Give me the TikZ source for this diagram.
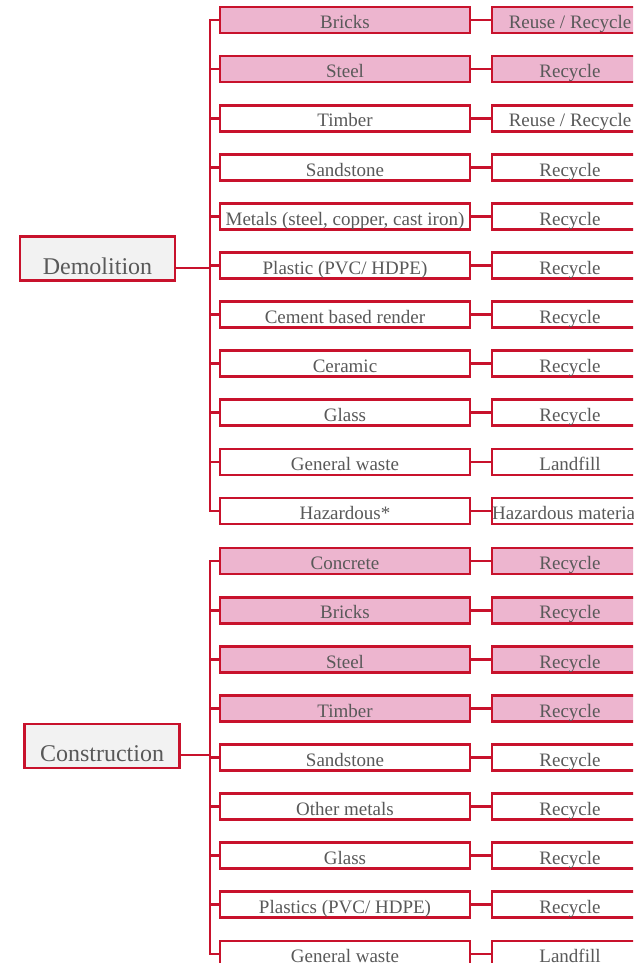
\documentclass[tikz,border=0pt]{standalone}
\usepackage{fontspec}
\setmainfont{Liberation Serif}
\definecolor{boxred}{RGB}{200,18,44}
\definecolor{boxpink}{RGB}{237,181,207}
\definecolor{boxgrey}{RGB}{242,242,242}
\definecolor{txtgrey}{RGB}{89,89,89}
\tikzset{
  item/.style={draw=boxred, line width=2.7pt, fill=white, text=txtgrey,
    minimum width=250pt, minimum height=26pt, inner sep=0pt,
    text height=17.5pt, text depth=0pt, font=\fontsize{19}{21}\selectfont},
  fate/.style={item, minimum width=156pt},
  hl/.style={fill=boxpink},
  group/.style={draw=boxred, line width=2.7pt, fill=boxgrey, text=txtgrey,
    minimum width=155pt, minimum height=44pt, inner sep=0pt,
    text height=31pt, text depth=0pt, font=\fontsize{24}{26}\selectfont},
  link/.style={draw=boxred, line width=2.7pt},
}
\begin{document}
\begin{tikzpicture}[x=1pt, y=-1pt]
      \useasboundingbox (0,0) rectangle (633,963);
      \clip (0,0) rectangle (633,963);
      % demolition
      \draw
        (97.5,258.5) node[group] (demo){Demolition}
        (345,20.0) node[item,hl] (d1){Bricks}
        (345,69.1) node[item,hl] (d2){Steel}
        (345,118.2) node[item] (d3){Timber}
        (345,167.3) node[item] (d4){Sandstone}
        (345,216.4) node[item] (d5){Metals (steel, copper, cast iron)}
        (345,265.5) node[item] (d6){Plastic (PVC/ HDPE)}
        (345,314.6) node[item] (d7){Cement based render}
        (345,363.7) node[item] (d8){Ceramic}
        (345,412.8) node[item] (d9){Glass}
        (345,461.9) node[item] (d10){General waste}
        (345,511.0) node[item] (d11){Hazardous*}
        (570,20.0) node[fate,hl] (dr1){Reuse / Recycle}
        (570,69.1) node[fate,hl] (dr2){Recycle}
        (570,118.2) node[fate] (dr3){Reuse / Recycle}
        (570,167.3) node[fate] (dr4){Recycle}
        (570,216.4) node[fate] (dr5){Recycle}
        (570,265.5) node[fate] (dr6){Recycle}
        (570,314.6) node[fate] (dr7){Recycle}
        (570,363.7) node[fate] (dr8){Recycle}
        (570,412.8) node[fate] (dr9){Recycle}
        (570,461.9) node[fate] (dr10){Landfill}
        (570,511.0) node[fate] (dr11){Hazardous materials};
      % construction
      \draw
        (102,746) node[group] (cons){Construction}
        (345,561.1) node[item,hl] (c1){Concrete}
        (345,610.2) node[item,hl] (c2){Bricks}
        (345,659.3) node[item,hl] (c3){Steel}
        (345,708.4) node[item,hl] (c4){Timber}
        (345,757.5) node[item] (c5){Sandstone}
        (345,806.6) node[item] (c6){Other metals}
        (345,855.7) node[item] (c7){Glass}
        (345,904.8) node[item] (c8){Plastics (PVC/ HDPE)}
        (345,953.9) node[item] (c9){General waste}
        (570,561.1) node[fate,hl] (cr1){Recycle}
        (570,610.2) node[fate,hl] (cr2){Recycle}
        (570,659.3) node[fate,hl] (cr3){Recycle}
        (570,708.4) node[fate,hl] (cr4){Recycle}
        (570,757.5) node[fate] (cr5){Recycle}
        (570,806.6) node[fate] (cr6){Recycle}
        (570,855.7) node[fate] (cr7){Recycle}
        (570,904.8) node[fate] (cr8){Recycle}
        (570,953.9) node[fate] (cr9){Landfill};
      \coordinate (dt) at (210,268);
      \coordinate (ct) at (210,755);
      \begin{scope}[link]
        \draw (dt -| demo.east) -- (dt);
        \draw (dt) |- (d1.west);
        \draw (dt) |- (d2.west);
        \draw (dt) |- (d3.west);
        \draw (dt) |- (d4.west);
        \draw (dt) |- (d5.west);
        \draw (dt) |- (d6.west);
        \draw (dt) |- (d7.west);
        \draw (dt) |- (d8.west);
        \draw (dt) |- (d9.west);
        \draw (dt) |- (d10.west);
        \draw (dt) |- (d11.west);
        \draw (d1) to (dr1);
        \draw (d2) to (dr2);
        \draw (d3) to (dr3);
        \draw (d4) to (dr4);
        \draw (d5) to (dr5);
        \draw (d6) to (dr6);
        \draw (d7) to (dr7);
        \draw (d8) to (dr8);
        \draw (d9) to (dr9);
        \draw (d10) to (dr10);
        \draw (d11) to (dr11);
        \draw (ct -| cons.east) -- (ct);
        \draw (ct) |- (c1.west);
        \draw (ct) |- (c2.west);
        \draw (ct) |- (c3.west);
        \draw (ct) |- (c4.west);
        \draw (ct) |- (c5.west);
        \draw (ct) |- (c6.west);
        \draw (ct) |- (c7.west);
        \draw (ct) |- (c8.west);
        \draw (ct) |- (c9.west);
        \draw (c1) to (cr1);
        \draw (c2) to (cr2);
        \draw (c3) to (cr3);
        \draw (c4) to (cr4);
        \draw (c5) to (cr5);
        \draw (c6) to (cr6);
        \draw (c7) to (cr7);
        \draw (c8) to (cr8);
        \draw (c9) to (cr9);
      \end{scope}
    \end{tikzpicture}
\end{document}
